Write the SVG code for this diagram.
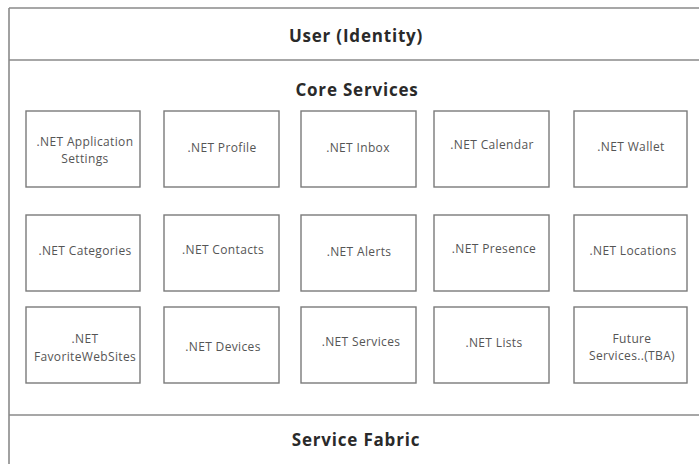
<svg xmlns="http://www.w3.org/2000/svg" width="699" height="464" viewBox="0 0 699 464">
<style>
.frame{stroke:#8a8a8a;stroke-width:1.6;fill:none}
.box{fill:#fff;stroke:#7a7a7a;stroke-width:1.4}
.lbl{font-family:"Open Sans","DejaVu Sans",sans-serif;font-size:12px;letter-spacing:0.35px;fill:#555;text-anchor:middle}
.ttl{font-family:"Open Sans","DejaVu Sans",sans-serif;font-size:17px;letter-spacing:0.8px;font-weight:bold;fill:#2a2a2a;text-anchor:middle}
</style>
<rect width="699" height="464" fill="#fff"/>
<g id="frame">
<line class="frame" x1="9" y1="8" x2="699" y2="8"/>
<line class="frame" x1="9" y1="8" x2="9" y2="464"/>
<line class="frame" x1="9" y1="60" x2="699" y2="60"/>
<line class="frame" x1="9" y1="415" x2="699" y2="415"/>
</g>
<g id="user"><text class="ttl" x="356" y="42">User (Identity)</text></g>
<g id="core"><text class="ttl" x="357" y="96">Core Services</text></g>
<g id="fabric"><text class="ttl" x="356" y="446">Service Fabric</text></g>
<g id="connectors"></g>
<g id="n-app"><rect class="box" x="26" y="111" width="114" height="76"/><text class="lbl" x="85" y="146">.NET Application</text><text class="lbl" x="85" y="163">Settings</text></g>
<g id="n-profile"><rect class="box" x="164" y="111" width="115" height="76"/><text class="lbl" x="222" y="152">.NET Profile</text></g>
<g id="n-inbox"><rect class="box" x="301" y="111" width="115" height="76"/><text class="lbl" x="358" y="152">.NET Inbox</text></g>
<g id="n-calendar"><rect class="box" x="434" y="111" width="115" height="76"/><text class="lbl" x="492" y="149">.NET Calendar</text></g>
<g id="n-wallet"><rect class="box" x="574" y="111" width="113" height="76"/><text class="lbl" x="631" y="151">.NET Wallet</text></g>
<g id="n-categories"><rect class="box" x="26" y="215" width="114" height="76"/><text class="lbl" x="85" y="255">.NET Categories</text></g>
<g id="n-contacts"><rect class="box" x="164" y="215" width="115" height="76"/><text class="lbl" x="223" y="254">.NET Contacts</text></g>
<g id="n-alerts"><rect class="box" x="301" y="215" width="115" height="76"/><text class="lbl" x="359" y="256">.NET Alerts</text></g>
<g id="n-presence"><rect class="box" x="434" y="215" width="115" height="76"/><text class="lbl" x="494" y="253">.NET Presence</text></g>
<g id="n-locations"><rect class="box" x="574" y="215" width="113" height="76"/><text class="lbl" x="633" y="255">.NET Locations</text></g>
<g id="n-favorites"><rect class="box" x="26" y="307" width="114" height="76"/><text class="lbl" x="85" y="343">.NET</text><text class="lbl" x="85" y="361">FavoriteWebSites</text></g>
<g id="n-devices"><rect class="box" x="164" y="307" width="115" height="76"/><text class="lbl" x="223" y="351">.NET Devices</text></g>
<g id="n-services"><rect class="box" x="301" y="307" width="115" height="76"/><text class="lbl" x="361" y="346">.NET Services</text></g>
<g id="n-lists"><rect class="box" x="434" y="307" width="115" height="76"/><text class="lbl" x="494" y="347">.NET Lists</text></g>
<g id="n-future"><rect class="box" x="574" y="307" width="113" height="76"/><text class="lbl" x="632" y="343">Future</text><text class="lbl" x="632" y="360">Services..(TBA)</text></g>
</svg>
